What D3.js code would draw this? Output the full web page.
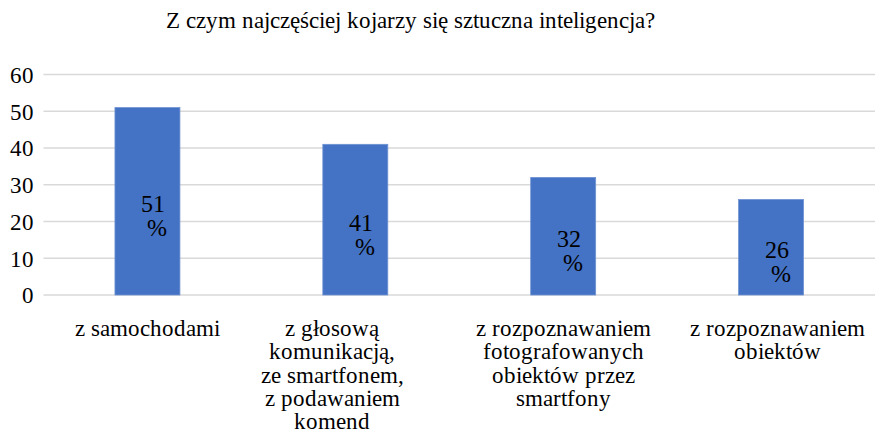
<!DOCTYPE html>
<html>
<head>
<meta charset="utf-8">
<script src="https://cdn.jsdelivr.net/npm/d3@7"></script>
<style>
  @font-face { font-family: "ChartSerif"; src: local("Liberation Serif"), local("LiberationSerif"), local("LiberationSerif-Regular"); }
  svg text { font-family: "ChartSerif", "Times New Roman", "Liberation Serif", serif !important; }
</style>
</head>
<body style="margin:0">
<div id="chart"></div>
<script>
// Chart data
var title = "Z czym najczęściej kojarzy się sztuczna inteligencja?";
var categories = [
  "z samochodami",
  "z głosową\nkomunikacją,\nze smartfonem,\nz podawaniem\nkomend",
  "z rozpoznawaniem\nfotografowanych\nobiektów przez\nsmartfony",
  "z rozpoznawaniem\nobiektów"
];
var values = [51, 41, 32, 26];
var yTicks = [0, 10, 20, 30, 40, 50, 60];

// small nudges of the category labels, as in the original
var labelShift = [0, -23, 0, 6];

var fontFamily = "Times New Roman";

var svgWidth = 875;
var svgHeight = 447;

var margin = { top: 74.5, right: 0, bottom: 152, left: 43.5 };
var width = svgWidth - margin.left - margin.right;
var height = svgHeight - margin.top - margin.bottom;

var svg = d3.select("#chart")
  .append("svg")
  .attr("width", svgWidth)
  .attr("height", svgHeight)
  .attr("font-family", fontFamily);

// title
svg.append("text")
  .attr("x", 410)
  .attr("y", 28)
  .attr("text-anchor", "middle")
  .attr("font-size", 23)
  .text(title);

var chartGroup = svg.append("g")
  .attr("transform", `translate(${margin.left}, ${margin.top})`);

var xScale = d3.scaleBand()
  .domain(categories)
  .range([0, width])
  .paddingInner(0.6875)
  .paddingOuter(0.34375);

var yScale = d3.scaleLinear()
  .domain([0, 60])
  .range([height, 0]);

// gridlines
chartGroup.selectAll("line.grid")
  .data(yTicks)
  .enter()
  .append("line")
  .attr("class", "grid")
  .attr("x1", 0)
  .attr("x2", width)
  .attr("y1", d => yScale(d))
  .attr("y2", d => yScale(d))
  .attr("stroke", "#d9d9d9")
  .attr("stroke-width", 1.5);

// y axis labels
var leftAxis = d3.axisLeft(yScale)
  .tickValues(yTicks)
  .tickSize(0)
  .tickPadding(10);

var yAxis = chartGroup.append("g").call(leftAxis)
  .attr("font-family", fontFamily)
  .attr("font-size", 23);
yAxis.select(".domain").remove();
yAxis.selectAll("text")
  .attr("fill", "#000")
  .attr("dy", "0.34em");

// bars
chartGroup.selectAll("rect.bar")
  .data(values)
  .enter()
  .append("rect")
  .attr("class", "bar")
  .attr("x", (d, i) => xScale(categories[i]))
  .attr("y", d => yScale(d))
  .attr("width", xScale.bandwidth())
  .attr("height", d => height - yScale(d))
  .attr("fill", "#4472c4")
  .attr("stroke", "#6f92d3")
  .attr("stroke-width", 0.8);

// value labels inside the bars
var valueGroup = chartGroup.selectAll("g.value")
  .data(values)
  .enter()
  .append("g")
  .attr("class", "value")
  .attr("transform", (d, i) => {
    var cx = xScale(categories[i]) + xScale.bandwidth() / 2;
    var mid = (yScale(d) + height) / 2;
    return `translate(${cx}, ${mid})`;
  });

valueGroup.append("text")
  .attr("x", 5.5)
  .attr("y", 11)
  .attr("text-anchor", "middle")
  .attr("font-size", 24)
  .text(d => d);

valueGroup.append("text")
  .attr("x", 9.5)
  .attr("y", 35)
  .attr("text-anchor", "middle")
  .attr("font-size", 24)
  .text("%");

// category labels
categories.forEach(function(cat, i) {
  var cx = xScale(cat) + xScale.bandwidth() / 2 + labelShift[i];
  var label = chartGroup.append("text")
    .attr("text-anchor", "middle")
    .attr("font-size", 23);
  cat.split("\n").forEach(function(line, j) {
    label.append("tspan")
      .attr("x", cx)
      .attr("y", height + 41 + j * 23.3)
      .text(line);
  });
});
</script>
</body>
</html>
